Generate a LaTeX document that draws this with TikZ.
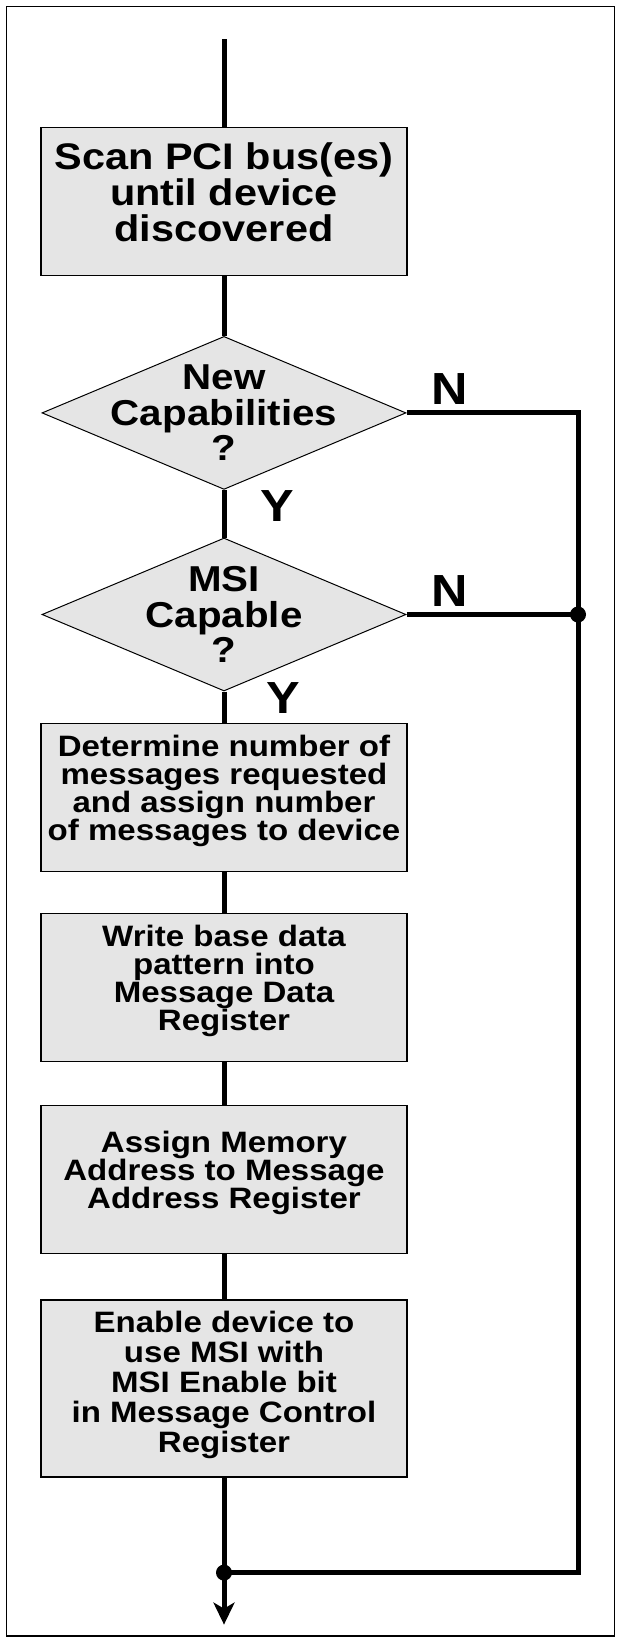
\documentclass[tikz,border=0pt]{standalone}
\usepackage{fontspec}
\newfontfamily\chartfont{Liberation Sans Bold}[FakeStretch=1.12]
\usetikzlibrary{shapes.geometric,arrows.meta,positioning}

\tikzset{
  procbox/.style={draw,line width=1.2pt,fill=boxfill,minimum width=366pt,minimum height=148pt,
    inner sep=0pt,align=center,text depth=20pt,font=\chartfont\fontsize{29.5}{28}\selectfont},
  decision/.style={diamond,draw,line width=1pt,fill=boxfill,minimum width=364pt,minimum height=153pt,inner sep=0pt},
  dtext/.style={align=center,inner sep=0pt,font=\chartfont\fontsize{36}{35.5}\selectfont},
  yn/.style={inner sep=0pt,font=\chartfont\fontsize{45}{45}\selectfont},
  flow/.style={line width=5pt},
}

\begin{document}
\begin{tikzpicture}[x=1pt,y=-1pt]
    \definecolor{boxfill}{rgb}{0.9,0.9,0.9}
    \useasboundingbox (0,0) rectangle (621,1642);
    \draw[line width=1.5pt] (6.7,6.7) rectangle (614.5,1636);

    \coordinate (start) at (224,39);
    \node[procbox,minimum height=148.4pt,text depth=19pt,font=\chartfont\fontsize{37}{36}\selectfont] (scan) at (224,201.5) {Scan PCI bus(es)\\until device\\discovered};
    \node[decision,below=59.6pt of scan] (newcap) {};
    \node[dtext] (newcaptext) at (newcap) {New\\Capabilities\\?};
    \node[decision,below=47.6pt of newcap] (msicap) {};
    \node[dtext] (msicaptext) at (msicap) {MSI\\Capable\\?};
    \node[procbox,below=31.3pt of msicap] (msgnum) {Determine number of\\messages requested\\and assign number\\of messages to device};
    \node[procbox,below=41pt of msgnum] (basedata) {Write base data\\pattern into\\Message Data\\Register};
    \node[procbox,below=43pt of basedata] (memaddr) {Assign Memory\\Address to Message\\Address Register};
    \node[procbox,below=45pt of memaddr,minimum height=177pt,text depth=13pt,font=\chartfont\fontsize{29.5}{30}\selectfont] (enable) {Enable device to\\use MSI with\\MSI Enable bit\\in Message Control\\Register};

    \coordinate[below=95pt of enable] (join);
    \coordinate[below=52pt of join] (finish);
    \coordinate[right=354pt of join] (railbot);
    \coordinate (tee) at (railbot |- msicap.east);

    % main flow
    \draw[flow] (start) -- (scan);
    \draw[flow] (scan) -- (newcap);
    \draw[flow] (newcap) -- (msicap);
    \draw[flow] (msicap) -- (msgnum);
    \draw[flow] (msgnum) -- (basedata);
    \draw[flow] (basedata) -- (memaddr);
    \draw[flow] (memaddr) -- (enable);
    \draw[flow] (enable) -- (join);
    \draw[flow,-{Stealth[length=22pt,width=21pt,inset=6pt]}] (join) -- (finish);

    % bypass
    \draw[flow] (newcap.east) -| (railbot) -- (join);
    \draw[flow] (msicap.east) -- (tee);
    \fill (tee) circle (8pt);
    \fill (join) circle (8pt);

    \node[yn,above right=8pt and 25pt of newcap.east] (no1) {N};
    \node[yn,above right=8pt and 25pt of msicap.east] (no2) {N};
    \node[yn,below right=0pt and 36pt of newcap.south] (yes1) {Y};
    \node[yn,below right=-9pt and 42pt of msicap.south] (yes2) {Y};
\end{tikzpicture}
\end{document}
